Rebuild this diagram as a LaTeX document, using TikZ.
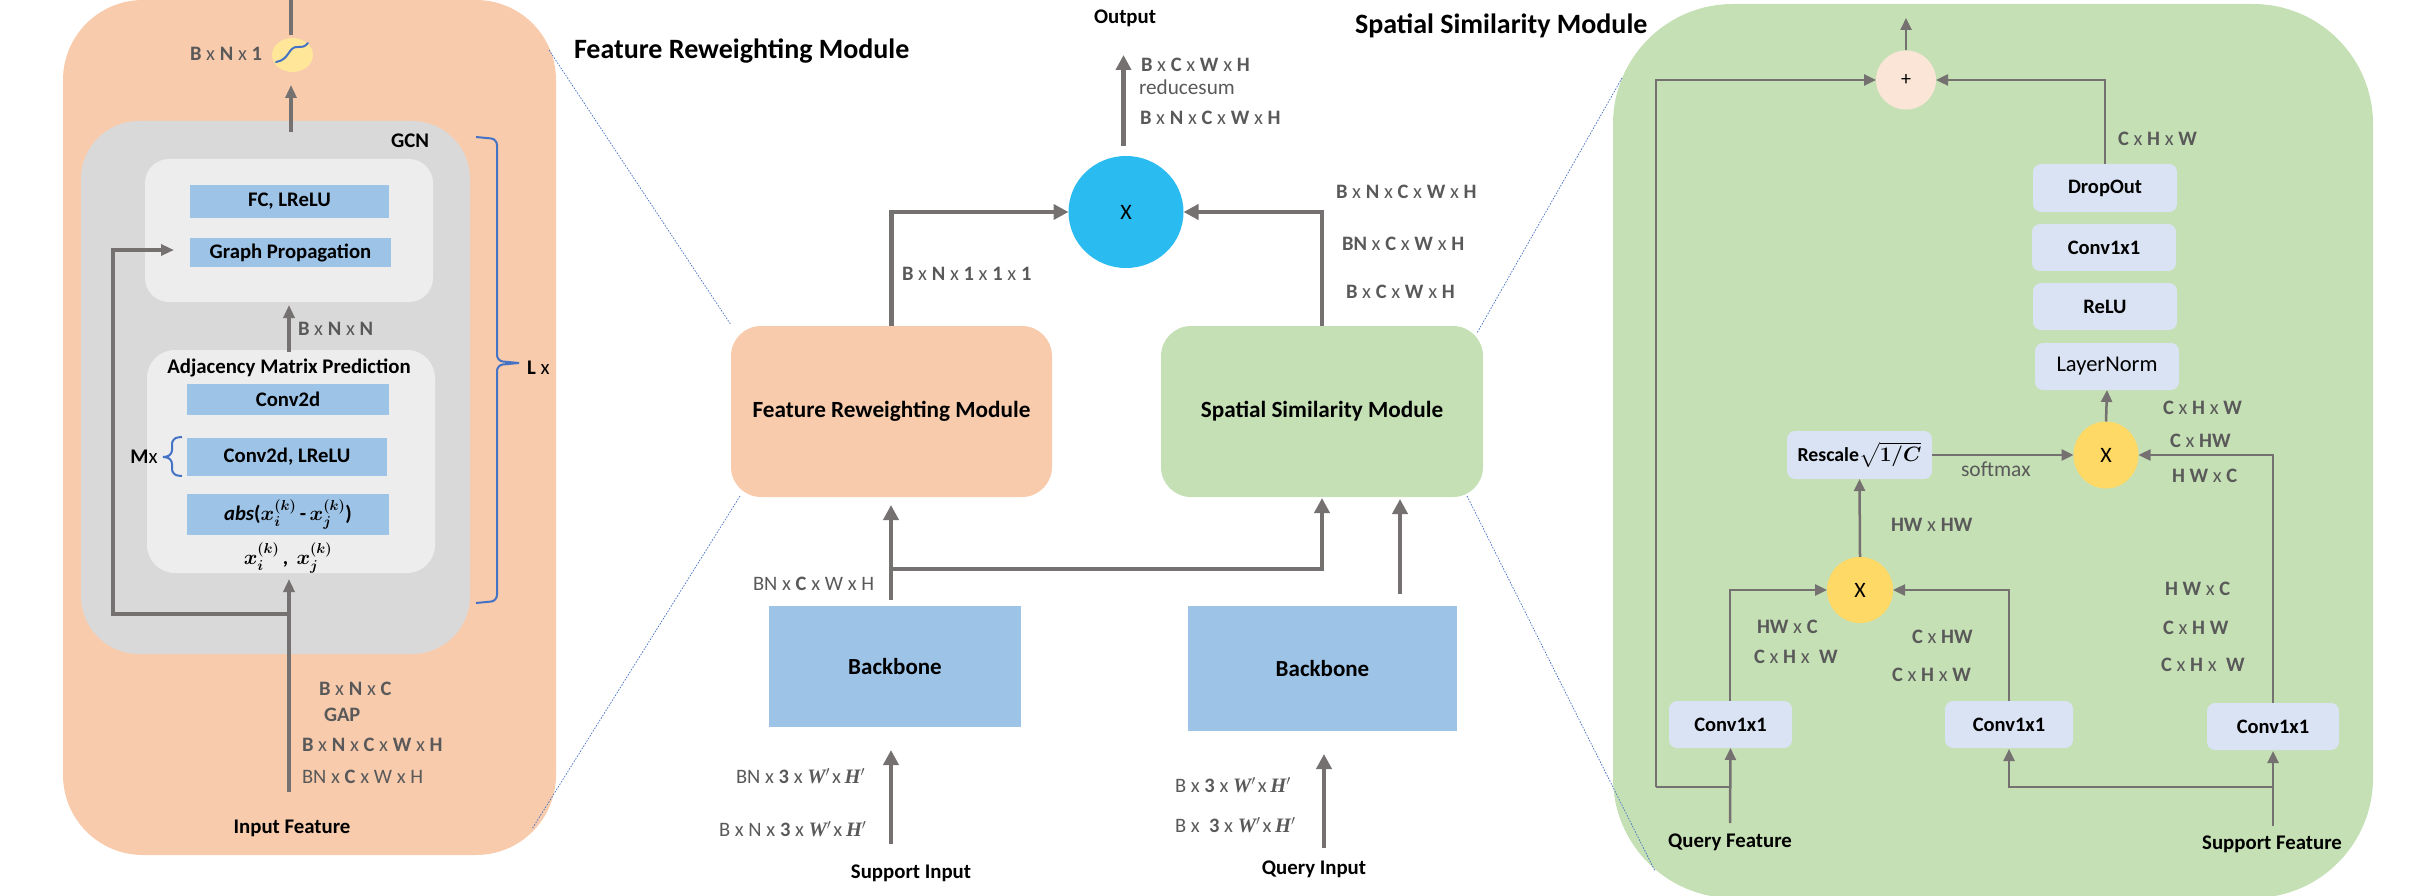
\documentclass[tikz,border=0pt]{standalone}
\usepackage{amsmath,bm}
\usepackage{fontspec}
\setmainfont{Carlito}
\newfontfamily\srf{Liberation Serif}
\usetikzlibrary{arrows.meta,shapes.geometric}
\definecolor{peach}{HTML}{F8CBAD}
\definecolor{grn}{HTML}{C5E0B4}
\definecolor{blu}{HTML}{9DC3E6}
\definecolor{gr}{HTML}{D9D9D9}
\definecolor{lgr}{HTML}{EDEDED}
\definecolor{lav}{HTML}{DAE3F3}
\definecolor{yel}{HTML}{FFD966}
\definecolor{lyel}{HTML}{FFE699}
\definecolor{cyanx}{HTML}{2ABBF0}
\definecolor{plusc}{HTML}{FBE5D6}
\definecolor{ln}{HTML}{767171}
\definecolor{lab}{HTML}{595959}
\definecolor{brc}{HTML}{4472C4}
\newcommand\bx[7]{\node[#2,minimum width={(#5-#3)*1pt},minimum height={(#6-#4)*1pt}] (#1) at ({(#3+#5)/2},{(#4+#6)/2}) {#7};}
\newcommand\xx{{\mdseries\hspace{0.23em}x\hspace{0.23em}}}
\newcommand\xt{{\mdseries\hspace{0.1em}x\hspace{0.18em}}}
\newcommand\WH{{\srf\itshape\bfseries W}$'$\xt{\srf\itshape\bfseries H}$'$}
\tikzset{
  panel/.style={inner sep=0pt,outer sep=0pt,fill=#1},
  blk/.style={inner sep=0pt,outer sep=0pt,fill=blu,font=\fontsize{20.7}{21}\selectfont\bfseries,text=black},
  lv/.style={inner sep=0pt,outer sep=0pt,fill=lav,rounded corners=8pt,font=\fontsize{20.5}{21}\selectfont\bfseries,text=black},
  lbl/.style={inner sep=0pt,outer sep=0pt,anchor=west,text=lab,font=\fontsize{20.5}{21}\selectfont\bfseries},
  ttl/.style={inner sep=0pt,outer sep=0pt,text=black,font=\fontsize{20.8}{21}\selectfont\bfseries},
  big/.style={inner sep=0pt,outer sep=0pt,anchor=west,text=black,font=\fontsize{28}{28}\selectfont\bfseries},
  oval/.style={ellipse,inner sep=0pt,outer sep=0pt,fill=#1,text=black,font=\fontsize{22}{22}\selectfont},
  a1/.style={draw=ln,line width=3.5pt,-{Triangle[length=13pt,width=11pt]}},
  a1n/.style={draw=ln,line width=3.5pt},
  a2/.style={draw=ln,line width=4.5pt,-{Triangle[length=15pt,width=15pt]}},
  a2n/.style={draw=ln,line width=4.5pt},
  a3/.style={draw=ln,line width=2.5pt,-{Triangle[length=12pt,width=11pt]}},
  a3n/.style={draw=ln,line width=2.5pt},
  brace/.style={draw=brc,line width=2pt,rounded corners=6pt},
  dots/.style={draw=brc,line width=0.7pt,dash pattern=on 1.6pt off 1.4pt},
}
\begin{document}
\begin{tikzpicture}[x=1pt,y=-1pt]
\useasboundingbox (0,0) rectangle (2413,896);
% ---------- left panel ----------
\bx{pPeach}{panel=peach,rounded corners=80pt}{63}{0}{556}{855}{}
\bx{pGcn}{panel=gr,rounded corners=58pt}{81}{121}{470}{654}{}
\bx{pTop}{panel=lgr,rounded corners=24pt}{145}{159}{433}{302}{}
\bx{pAdj}{panel=lgr,rounded corners=28pt}{147}{350}{435}{573}{}
\bx{fc}{blk}{190}{185}{389}{218}{FC, LReLU}
\bx{gp}{blk}{190}{238}{391}{267}{Graph Propagation}
\bx{cv2}{blk}{187}{384}{389}{415}{Conv2d}
\bx{cv2l}{blk}{187}{438}{387}{476}{Conv2d, LReLU}
\bx{absb}{blk}{187}{494}{389}{535}{\textit{abs}($\bm{x}_{\bm{i}}^{\bm{(k)}}$\,-\,$\bm{x}_{\bm{j}}^{\bm{(k)}}$)}
\node[ttl] (xij) at (288,558) {$\bm{x}_{\bm{i}}^{\bm{(k)}}$\,,\ \,$\bm{x}_{\bm{j}}^{\bm{(k)}}$};
\node[ttl] (adjt) at (289,368) {Adjacency Matrix Prediction};
\node[ttl] (gcnt) at (410,141) {GCN};
\node[big] (t1) at (574,51) {Feature Reweighting Module};
\node[oval=lyel,minimum width=41pt,minimum height=34pt] (sig) at (292.5,55) {};
\draw[brc,line width=2pt,line cap=round] (276,62) .. controls (290,60) and (288,46) .. (298,47) .. controls (302,47) and (305,47) .. (308,43);
\node[lbl] (l1) at (190,54) {B\xx N\xx 1};
\node[lbl] (l2) at (298,329) {B\xx N\xx N};
\node[lbl] (l3) at (319,689) {B\xx N\xx C};
\node[lbl] (l4) at (324,715) {GAP};
\node[lbl] (l5) at (302,745) {B\xx N\xx C\xx W\xx H};
\node[lbl] (l6) at (302,777) {\mdseries BN\xx\bfseries C\xx\mdseries W\xx H};
\node[ttl] (inf) at (292,828) {Input Feature};
\node[ttl,anchor=west] (lx) at (527,368) {L\xx};
\node[ttl] (mx) at (144,457) {M{\mdseries x}};
\coordinate (o1) at (291,132); \coordinate (o2) at (291,85);
\coordinate (o3) at (291,35); \coordinate (o4) at (291,0);
\draw[a1] (o1) -- (o2);
\draw[a1n] (o3) -- (o4);
\coordinate (n1) at (289,352); \coordinate (n2) at (289,305);
\draw[a1] (n1) -- (n2);
\coordinate (i1) at (289,792); \coordinate (i2) at (289,579); \coordinate (i3) at (289,614); \coordinate (i4) at (174,250); 
\draw[a1] (i1) -- (i2);
\draw[a1] (i3) -| (113,250) -- (i4);
\coordinate (b1) at (476,137); \coordinate (b2) at (476,603); \coordinate (b3) at (519,363);
\draw[brace] (b1) -- (497,139) -- (497,361) -- (b3);
\draw[brace] (b3) -- (497,365) -- (497,601) -- (b2);
\coordinate (m1) at (182,437); \coordinate (m2) at (182,476); \coordinate (m3) at (163,457);
\draw[brace] (m1) -- (172,438) -- (172,456) -- (m3);
\draw[brace] (m3) -- (172,458) -- (172,475) -- (m2);
% ---------- middle ----------
\bx{frm}{panel=peach,rounded corners=30pt,font=\fontsize{23.2}{23}\selectfont\bfseries}{731}{326}{1052}{497}{Feature Reweighting Module}
\bx{ssm}{panel=grn,rounded corners=30pt,font=\fontsize{23.2}{23}\selectfont\bfseries}{1161}{326}{1483}{497}{Spatial Similarity Module}
\bx{bb1}{blk,font=\fontsize{23}{23}\selectfont\bfseries}{769}{606}{1021}{727}{Backbone}
\bx{bb2}{blk,font=\fontsize{23}{23}\selectfont\bfseries}{1188}{606}{1457}{731}{Backbone}
\node[oval=cyanx,minimum width=115pt,minimum height=112pt] (mul) at (1126,212) {X};
\node[ttl] (outp) at (1125,18) {Output};
\node[ttl] (supi) at (911,873) {Support Input};
\node[ttl] (quei) at (1314,869) {Query Input};
\node[lbl] (m1l) at (1141,65) {B\xx C\xx W\xx H};
\node[lbl,font=\fontsize{21.2}{21}\selectfont] (m2l) at (1139,87) {reducesum};
\node[lbl] (m3l) at (1140,118) {B\xx N\xx C\xx W\xx H};
\node[lbl] (m4l) at (902,274) {B\xx N\xx 1\xx 1\xx 1};
\node[lbl] (m5l) at (1336,192) {B\xx N\xx C\xx W\xx H};
\node[lbl] (m6l) at (1342,244) {BN\xx C\xx W\xx H};
\node[lbl] (m7l) at (1346,292) {B\xx C\xx W\xx H};
\node[lbl] (m8l) at (753,584) {\mdseries BN\xx\bfseries C\xx\mdseries W\xx H};
\node[lbl] (m9l) at (736,776) {\mdseries BN\xx\bfseries 3\xx\WH};
\node[lbl] (m10l) at (719,829) {\mdseries B\xx N\xx\bfseries 3\xx\WH};
\node[lbl] (m11l) at (1175,785) {\mdseries B\xx\bfseries 3\xx\WH};
\node[lbl] (m12l) at (1175,825) {\mdseries B\xx\ \bfseries 3\xx\WH};
\coordinate (u1) at (1123.5,146); \coordinate (u2) at (1123.5,55);
\draw[a2] (u1) -- (u2);
\draw[a2] (frm.north) |- (mul.west);
\draw[a2] (ssm.north) |- (mul.east);
\coordinate (q1) at (891,600); \coordinate (q2) at (891,505); \coordinate (q3) at (891,569); \coordinate (q4) at (1322,498);
\draw[a2] (q1) -- (q2);
\draw[a2] (q3) -| (q4);
\coordinate (q5) at (1400,594); \coordinate (q6) at (1400,499);
\draw[a2] (q5) -- (q6);
\coordinate (q7) at (891,844); \coordinate (q8) at (891,750);
\draw[a2] (q7) -- (q8);
\coordinate (q9) at (1324,848); \coordinate (q10) at (1324,754);
\draw[a2] (q9) -- (q10);
\node[big] (t2) at (1355,26) {Spatial Similarity Module};
% ---------- right panel ----------
\bx{pGreen}{panel=grn,rounded corners=120pt}{1613}{4}{2373}{898}{}
\bx{drop}{lv}{2033}{164}{2177}{212}{DropOut}
\bx{cv1}{lv}{2032}{224}{2176}{271}{Conv1x1}
\bx{relu}{lv}{2033}{283}{2177}{330}{ReLU}
\bx{lnorm}{lv,font=\fontsize{22.5}{22}\selectfont}{2035}{343}{2179}{390}{LayerNorm}
\bx{resc}{lv,font=\fontsize{19.8}{20}\selectfont\bfseries}{1787}{431}{1932}{479}{Rescale$\sqrt{\bm{1/C}}$}
\bx{c1}{lv}{1669}{701}{1792}{748}{Conv1x1}
\bx{c2}{lv}{1945}{701}{2073}{748}{Conv1x1}
\bx{c3}{lv}{2207}{703}{2339}{750}{Conv1x1}
\node[oval=plusc,minimum width=60pt,minimum height=59pt,font=\fontsize{20}{20}\selectfont] (plus) at (1906,80) {+};
\node[oval=yel,minimum width=65pt,minimum height=67pt] (y1) at (2106,455) {X};
\node[oval=yel,minimum width=66pt,minimum height=66pt] (y2) at (1860,590) {X};
\node[lbl] (r1) at (2118,139) {C\xx H\xx W};
\node[lbl] (r2) at (2163,408) {C\xx H\xx W};
\node[lbl] (r3) at (2170,441) {C\xx HW};
\node[lbl] (r4) at (2172,476) {H W\xx C};
\node[lbl,font=\fontsize{21.5}{21}\selectfont] (r5) at (1961,469) {softmax};
\node[lbl] (r6) at (1891,525) {HW\xx HW};
\node[lbl] (r7) at (1757,627) {HW\xx C};
\node[lbl] (r8) at (1754,657) {C\xx H\xx\ W};
\node[lbl] (r9) at (1912,637) {C\xx HW};
\node[lbl] (r10) at (1892,675) {C\xx H\xx W};
\node[lbl] (r11) at (2165,589) {H W\xx C};
\node[lbl] (r12) at (2163,628) {C\xx H W};
\node[lbl] (r13) at (2161,665) {C\xx H\xx\ W};
\node[ttl] (qf) at (1730,842) {Query Feature};
\node[ttl] (sf) at (2272,844) {Support Feature};
\coordinate (p1) at (1906,18);
\draw[a3] (plus.north) -- (p1);
\draw[a3] (drop.north) |- (plus.east);
\coordinate (k1) at (1730,823); \coordinate (k2) at (1730,787); \coordinate (k3) at (1656,787);
\draw[a3n] (k2) -- (k3);
\draw[a3] (k3) |- (plus.west);
\draw[a3] (k1) -- (c1.south);
\draw[a3] (y1.north) -- (lnorm.south);
\draw[a3] (resc.east) -- (y1.west);
\coordinate (k4) at (2273,703);
\draw[a3] (k4) |- (y1.east);
\draw[a3] (y2.north) -- (resc.south);
\coordinate (k5) at (1730,701); \coordinate (k6) at (2009,701);
\draw[a3] (k5) |- (y2.west);
\draw[a3] (k6) |- (y2.east);
\coordinate (k7) at (2273,826); \coordinate (k8) at (2273,751); \coordinate (k9) at (2273,787); \coordinate (k10) at (2009,749);
\draw[a3] (k7) -- (k8);
\draw[a3] (k9) -| (k10);
% ---------- zoom lines ----------
\coordinate (d1) at (549,50); \coordinate (d2) at (731,325);
\coordinate (d3) at (740,496); \coordinate (d4) at (532,829);
\coordinate (d5) at (1622,78); \coordinate (d6) at (1477,333);
\coordinate (d7) at (1467,496); \coordinate (d8) at (1655,871);
\draw[dots] (d1) -- (d2);
\draw[dots] (d3) -- (d4);
\draw[dots] (d5) -- (d6);
\draw[dots] (d7) -- (d8);
\end{tikzpicture}
\end{document}
